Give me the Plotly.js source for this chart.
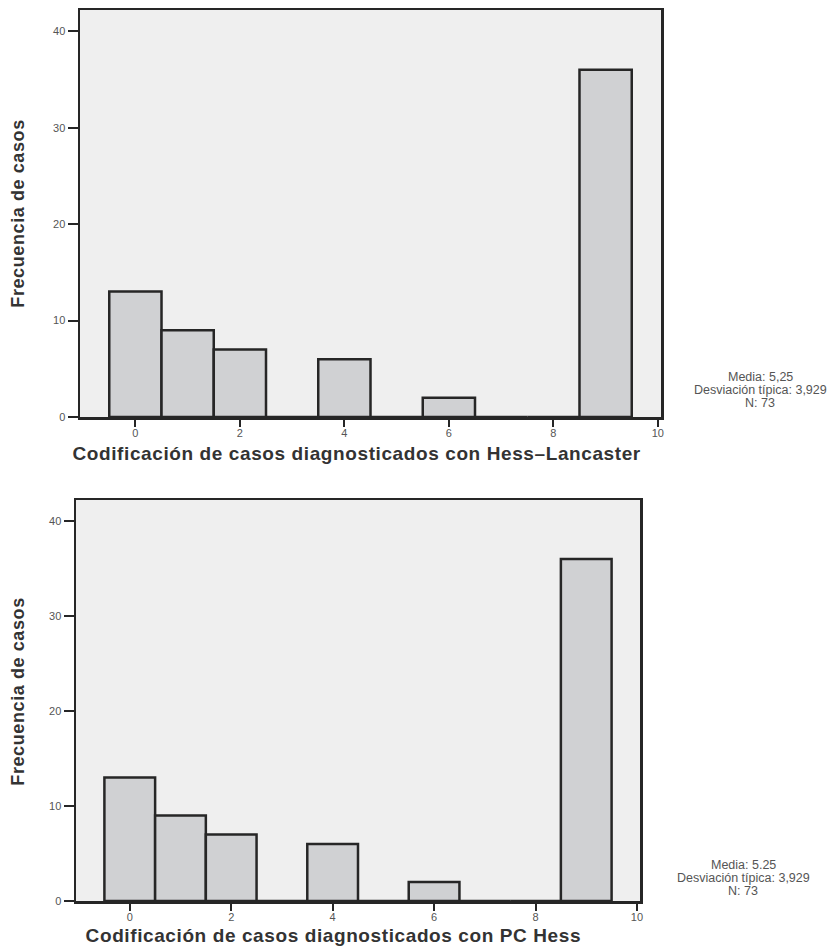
<!DOCTYPE html>
<html>
<head>
<meta charset="utf-8">
<script src="https://cdn.plot.ly/plotly-3.0.1.min.js"></script>
<style>
html,body{margin:0;padding:0;background:#fff;}
#chart{width:832px;height:946px;}
.axtitle text{letter-spacing:0.6px;}
</style>
</head>
<body>
<div id="chart"></div>
<script>
// Data
const codes = [0, 1, 2, 3, 4, 5, 6, 7, 8, 9];
const countsHessLancaster = [13, 9, 7, 0, 6, 0, 2, 0, 0, 36];
const countsPCHess = [13, 9, 7, 0, 6, 0, 2, 0, 0, 36];
const xTickVals = [0, 2, 4, 6, 8, 10];
const yTickVals = [0, 10, 20, 30, 40];
const titleTop = "Codificación de casos diagnosticados con Hess–Lancaster";
const titleBottom = "Codificación de casos diagnosticados con PC Hess";
const yTitle = "Frecuencia de casos";
const statsTop = ["Media: 5,25", "Desviación típica: 3,929", "N: 73"];
const statsBottom = ["Media: 5.25", "Desviación típica: 3,929", "N: 73"];

const FONT = "Liberation Sans, Arial, sans-serif";
const W = 832, H = 946;
const px = v => v / W;
const py = v => 1 - v / H;

const barStyle = {
  type: 'bar', width: 1,
  marker: {color: '#d0d1d3', line: {color: '#262626', width: 2.5}},
  hoverinfo: 'skip', showlegend: false
};

const data = [
  Object.assign({x: codes, y: countsHessLancaster, xaxis: 'x', yaxis: 'y'}, barStyle),
  Object.assign({x: codes, y: countsPCHess, xaxis: 'x2', yaxis: 'y2'}, barStyle)
];

function xax(domain, anchor) {
  return {
    domain: domain, anchor: anchor, range: [-1.06, 10.06],
    tickvals: xTickVals, ticks: 'outside', ticklen: 7, tickwidth: 2, tickcolor: '#262626',
    ticklabelstandoff: -3,
    showline: true, mirror: true, linecolor: '#262626', linewidth: 2.5,
    showgrid: false, zeroline: false,
    tickfont: {family: FONT, size: 11, color: '#555555'}
  };
}
function yax(domain, anchor) {
  return {
    domain: domain, anchor: anchor, range: [0, 42.2],
    tickvals: yTickVals, ticks: 'outside', ticklen: 10, tickwidth: 2, tickcolor: '#262626',
    showline: true, mirror: true, linecolor: '#262626', linewidth: 2.5,
    showgrid: false, zeroline: false,
    tickfont: {family: FONT, size: 11, color: '#555555'}
  };
}

const annotations = [];
function addText(text, x, y, size, bold, angle, color) {
  annotations.push({
    xref: 'paper', yref: 'paper', x: px(x), y: py(y),
    xanchor: 'center', yanchor: 'middle', showarrow: false, borderpad: 0,
    text: bold ? '<b>' + text + '</b>' : text, textangle: angle || 0,
    font: {family: FONT, size: size, color: color}
  });
}
addText(titleTop, 357, 453, 19, true, 0, '#333333');
addText(titleBottom, 333, 935, 19, true, 0, '#333333');
addText(yTitle, 18, 214, 18, true, -90, '#333333');
addText(yTitle, 18, 692, 18, true, -90, '#333333');
const statsTopY = [377, 390, 403];
const statsBotY = [865, 878, 891];
statsTop.forEach((t, i) => addText(t, 760, statsTopY[i], 12.5, false, 0, '#555555'));
statsBottom.forEach((t, i) => addText(t, 743, statsBotY[i], 12.5, false, 0, '#555555'));

const layout = {
  width: W, height: H,
  margin: {l: 0, r: 0, t: 0, b: 0},
  paper_bgcolor: '#ffffff',
  plot_bgcolor: '#efefef',
  bargap: 0,
  showlegend: false,
  xaxis: xax([px(80), px(661)], 'y'),
  yaxis: yax([py(417), py(10)], 'x'),
  xaxis2: xax([px(76), px(640)], 'y2'),
  yaxis2: yax([py(901), py(500)], 'x2'),
  annotations: annotations
};

Plotly.newPlot('chart', data, layout, {displayModeBar: false, staticPlot: true}).then(() => {
  document.querySelectorAll('.annotation').forEach((g, i) => {
    if (i < 4) g.classList.add('axtitle');
  });
});
</script>
</body>
</html>
